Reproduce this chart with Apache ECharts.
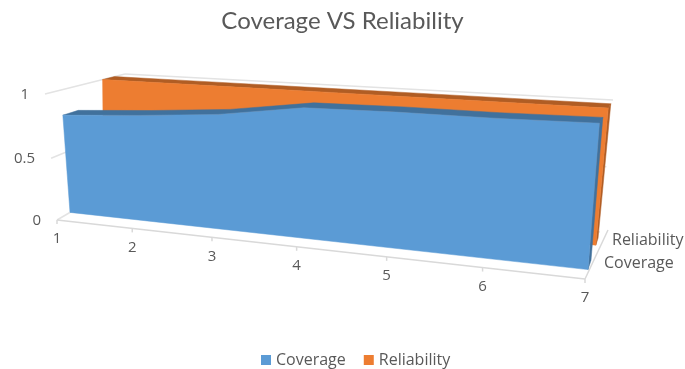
<!DOCTYPE html>
<html>
<head>
<meta charset="utf-8">
<style>html,body{margin:0;padding:0;background:#fff}#chart{width:685px;height:369px}</style>
<script src="https://cdn.jsdelivr.net/npm/echarts@6/dist/echarts.min.js"></script>
</head>
<body>
<div id="chart"></div>
<script>
const categories = ['1', '2', '3', '4', '5', '6', '7'];
const coverage = [0.8, 0.84, 0.89, 0.98, 0.99, 0.99, 1];
const reliability = [1, 1, 1, 1, 1, 1, 1];
const valueTicks = [0, 0.5, 1];
const valueLabels = ['0', '0.5', '1'];
const depthLabels = ['Coverage', 'Reliability'];

const FONT = '"Open Sans", Lato, sans-serif';
const TITLE_FONT = 'Lato, "Open Sans", sans-serif';
const TEXT = '#595959';
const GRID = '#e3e3e3';

// corners of the 3d box on screen: u0v0, u1v0, u1v1, u0v1
const frontQuad = [[57, 220], [585, 279], [596, 129], [45, 94]];
const backQuad = [[122, 182], [600, 232], [613, 100], [125, 74]];
const depthBands = {Coverage: [0.2, 0.4], Reliability: [0.72, 0.87]};

// unit square -> quad
function homography(q) {
    const [x0, y0] = q[0], [x1, y1] = q[1], [x2, y2] = q[2], [x3, y3] = q[3];
    const dx1 = x1 - x2, dx2 = x3 - x2, sx = x0 - x1 + x2 - x3;
    const dy1 = y1 - y2, dy2 = y3 - y2, sy = y0 - y1 + y2 - y3;
    const den = dx1 * dy2 - dx2 * dy1;
    const g = (sx * dy2 - dx2 * sy) / den;
    const h = (dx1 * sy - sx * dy1) / den;
    return (u, v) => {
        const w = g * u + h * v + 1;
        return [
            ((x1 - x0 + g * x1) * u + (x3 - x0 + h * x3) * v + x0) / w,
            ((y1 - y0 + g * y1) * u + (y3 - y0 + h * y3) * v + y0) / w
        ];
    };
}
const front = homography(frontQuad);
const back = homography(backQuad);

// flat grid pixel + depth -> screen
function project(pt, d, rect) {
    const u = (pt[0] - rect.x) / rect.width;
    const v = (rect.y + rect.height - pt[1]) / rect.height;
    const a = front(u, v), b = back(u, v);
    return [a[0] + (b[0] - a[0]) * d, a[1] + (b[1] - a[1]) * d];
}

function poly(points, fill) {
    return {type: 'polygon', shape: {points}, style: {fill, stroke: fill, lineWidth: 0.5}};
}
function line(a, b, stroke) {
    return {type: 'line', shape: {x1: a[0], y1: a[1], x2: b[0], y2: b[1]}, style: {stroke, lineWidth: 1.5}};
}
function label(text, p, align, size) {
    return {type: 'text', style: {text, x: p[0], y: p[1], fill: TEXT, font: size + 'px ' + FONT, textAlign: align, textVerticalAlign: 'middle'}};
}

function areaRenderer(values, bands, faceColor, darkColor) {
    return function (params, api) {
        if (params.dataIndex !== 0) return null;
        const rect = params.coordSys;
        const last = values.length - 1;
        const top = values.map((v, i) => api.coord([i, v]));
        const base0 = api.coord([0, 0]), base1 = api.coord([last, 0]);
        const children = [];
        // side at the right end
        children.push(poly([
            project(base1, bands[0], rect), project(top[last], bands[0], rect),
            project(top[last], bands[1], rect), project(base1, bands[1], rect)
        ], darkColor));
        // top strip
        children.push(poly(
            top.map(p => project(p, bands[0], rect)).concat(top.slice().reverse().map(p => project(p, bands[1], rect))),
            darkColor
        ));
        // front face
        children.push(poly(
            [project(base0, bands[0], rect)].concat(top.map(p => project(p, bands[0], rect)), [project(base1, bands[0], rect)]),
            faceColor
        ));
        return {type: 'group', children};
    };
}

function frameRenderer(params, api) {
    if (params.dataIndex !== 0) return null;
    const rect = params.coordSys;
    const last = categories.length - 1;
    const children = [];
    valueTicks.forEach((t, i) => {
        const l = api.coord([0, t]), r = api.coord([last, t]);
        children.push(line(project(l, 0, rect), project(l, 1, rect), GRID));
        children.push(line(project(l, 1, rect), project(r, 1, rect), GRID));
        const p = project(l, 0, rect);
        children.push(label(valueLabels[i], [p[0] - 16, p[1] + 0.5], 'right', 15));
    });
    const o1 = api.coord([last, 0]);
    const o2 = project(o1, 0, rect);
    children.push(line(o2, [608, 230], '#d9d9d9'));
    children.push(line(project(api.coord([0, 0]), 0, rect), o2, '#d9d9d9'));
    categories.forEach((c, i) => {
        const p = project(api.coord([i, 0]), 0, rect);
        children.push(line(p, [p[0], p[1] + 4], '#d9d9d9'));
        children.push(label(c, [p[0], p[1] + 19], 'center', 15));
    });
    children.push(label(depthLabels[0], [604, 263], 'left', 16));
    children.push(label(depthLabels[1], [612, 240], 'left', 16));
    return {type: 'group', children};
}

function toRows(values) {
    return values.map((v, i) => [i, v]);
}

const myChart = echarts.init(document.getElementById('chart'));
myChart.setOption({
    animation: false,
    textStyle: {fontFamily: FONT},
    title: {
        text: 'Coverage VS Reliability',
        left: 'center',
        top: 4,
        textStyle: {color: TEXT, fontSize: 24, fontWeight: 400, fontFamily: TITLE_FONT}
    },
    legend: {
        data: ['Coverage', 'Reliability'],
        top: 347,
        left: 256,
        icon: 'rect',
        itemWidth: 10,
        itemHeight: 10,
        itemGap: 18,
        textStyle: {color: TEXT, fontSize: 16, fontFamily: FONT}
    },
    grid: {left: 0, right: 0, top: 0, bottom: 0},
    xAxis: {type: 'category', data: categories, boundaryGap: false, show: false},
    yAxis: {type: 'value', min: 0, max: 1, interval: 0.5, show: false},
    series: [
        {name: 'frame', type: 'custom', silent: true, renderItem: frameRenderer, data: toRows(coverage), encode: {x: 0, y: 1}},
        {
            name: 'Reliability', type: 'custom', silent: true,
            itemStyle: {color: '#ED7D31'},
            renderItem: areaRenderer(reliability, depthBands.Reliability, '#ED7D31', '#B05D24'),
            data: toRows(reliability), encode: {x: 0, y: 1}
        },
        {
            name: 'Coverage', type: 'custom', silent: true,
            itemStyle: {color: '#5B9BD5'},
            renderItem: areaRenderer(coverage, depthBands.Coverage, '#5B9BD5', '#41719C'),
            data: toRows(coverage), encode: {x: 0, y: 1}
        }
    ]
});
</script>
</body>
</html>
